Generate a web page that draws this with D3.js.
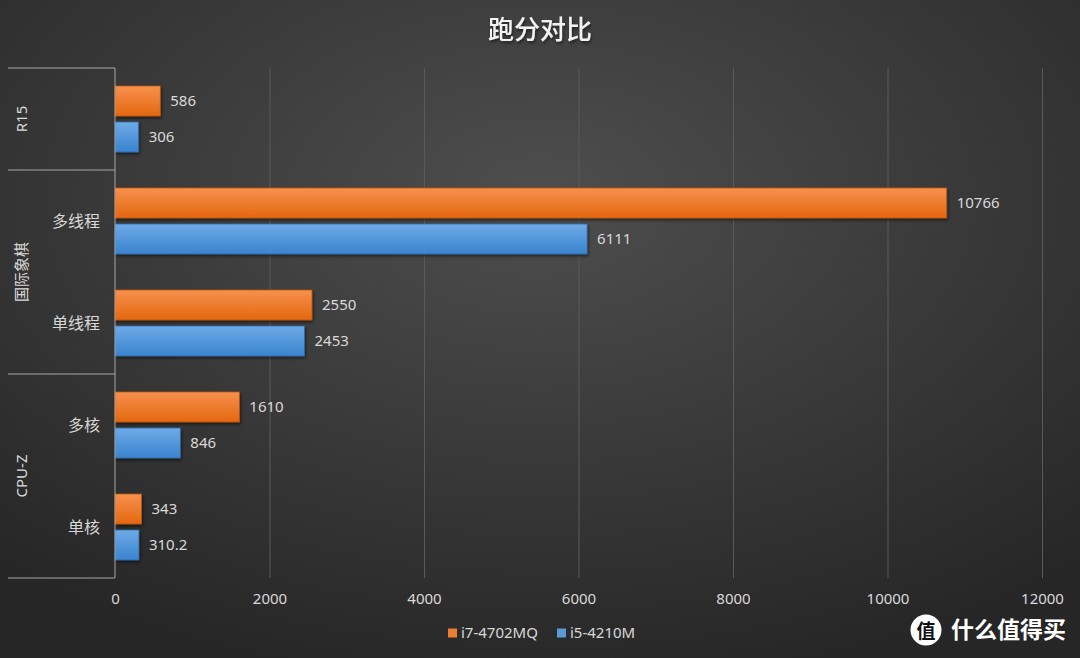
<!DOCTYPE html>
<html>
<head>
<meta charset="utf-8">
<script src="https://cdn.jsdelivr.net/npm/d3@7"></script>
<style>
  html, body { margin: 0; padding: 0; background: #333; }
  #chart { width: 1080px; height: 658px; }
  text { font-family: "Noto Sans", "Noto Sans CJK SC", sans-serif; }
</style>
</head>
<body>
<div id="chart"></div>
<script>
// Chart data
const categoryGroups = ['R15', '国际象棋', '国际象棋', 'CPU-Z', 'CPU-Z'];
const categoryNames = ['', '多线程', '单线程', '多核', '单核'];
const seriesNames = ['i7-4702MQ', 'i5-4210M'];
const i7Values = [586, 10766, 2550, 1610, 343];
const i5Values = [306, 6111, 2453, 846, 310.2];
const xTicks = [0, 2000, 4000, 6000, 8000, 10000, 12000];
const title = '跑分对比';

function initChart() {
  const width = 1080;
  const height = 658;
  const margin = { top: 68, right: 38, bottom: 80, left: 115 };
  const innerWidth = width - margin.left - margin.right;
  const innerHeight = height - margin.top - margin.bottom;
  const labelColor = '#d9d9d9';

  const svg = d3.select('#chart')
    .append('svg')
    .attr('width', width)
    .attr('height', height);

  const defs = svg.append('defs');

  // Background gradient
  const bg = defs.append('radialGradient')
    .attr('id', 'bg')
    .attr('cx', '50%').attr('cy', '30%').attr('r', '75%');
  bg.append('stop').attr('offset', '0%').attr('stop-color', '#4e4e4e');
  bg.append('stop').attr('offset', '100%').attr('stop-color', '#262626');

  const colors = [
    { id: 'gOrange', top: '#f7914f', bottom: '#e4670f', stroke: '#b9560f', legend: '#ed7d31' },
    { id: 'gBlue', top: '#6eaae6', bottom: '#3a84cf', stroke: '#2e6aa8', legend: '#5b9bd5' }
  ];
  colors.forEach(c => {
    const lg = defs.append('linearGradient')
      .attr('id', c.id)
      .attr('x1', 0).attr('y1', 0).attr('x2', 0).attr('y2', 1);
    lg.append('stop').attr('offset', '0%').attr('stop-color', c.top);
    lg.append('stop').attr('offset', '100%').attr('stop-color', c.bottom);
  });

  const shadow = defs.append('filter').attr('id', 'shadow')
    .attr('x', '-10%').attr('y', '-20%').attr('width', '130%').attr('height', '160%');
  shadow.append('feDropShadow')
    .attr('dx', 1).attr('dy', 2).attr('stdDeviation', 1.5)
    .attr('flood-color', '#000').attr('flood-opacity', 0.5);

  svg.append('rect')
    .attr('width', width).attr('height', height)
    .attr('fill', 'url(#bg)');

  // Title
  svg.append('text')
    .attr('x', width / 2)
    .attr('y', 39)
    .attr('text-anchor', 'middle')
    .style('fill', '#f2f2f2')
    .style('font-size', '26px')
    .style('font-weight', '500')
    .style('font-family', '"Noto Sans CJK SC", sans-serif')
    .attr('filter', 'url(#shadow)')
    .text(title);

  const g = svg.append('g')
    .attr('transform', `translate(${margin.left},${margin.top})`);

  // Scales
  const xScale = d3.scaleLinear()
    .domain([0, 12000])
    .range([0, innerWidth]);

  const yScale = d3.scaleBand()
    .domain(d3.range(categoryNames.length))
    .range([0, innerHeight]);

  const ySub = d3.scaleBand()
    .domain(d3.range(seriesNames.length))
    .range([0, yScale.bandwidth()])
    .paddingInner(1 / 6)
    .paddingOuter(0.5);

  // Grid
  const xGrid = g.append('g')
    .call(d3.axisBottom(xScale)
      .tickValues(xTicks.slice(1))
      .tickSize(innerHeight)
      .tickFormat(''));
  xGrid.select('.domain').remove();
  xGrid.selectAll('line')
    .style('stroke', '#5a5a5a')
    .style('stroke-width', 1);

  // X axis labels
  const xAxis = g.append('g')
    .attr('transform', `translate(0,${innerHeight})`)
    .call(d3.axisBottom(xScale)
      .tickValues(xTicks)
      .tickFormat(d3.format('d'))
      .tickSize(0)
      .tickPadding(15));
  xAxis.select('.domain').remove();
  xAxis.selectAll('text')
    .style('fill', labelColor)
    .style('font-size', '15px');

  // Bars
  const seriesValues = [i7Values, i5Values];
  seriesValues.forEach((values, s) => {
    const bars = g.append('g');
    bars.selectAll('rect')
      .data(values)
      .enter().append('rect')
      .attr('x', 0)
      .attr('y', (d, i) => yScale(i) + ySub(s))
      .attr('width', d => xScale(d))
      .attr('height', ySub.bandwidth())
      .attr('fill', `url(#${colors[s].id})`)
      .attr('stroke', colors[s].stroke)
      .attr('stroke-width', 0.8)
      .attr('filter', 'url(#shadow)');

    bars.selectAll('text')
      .data(values)
      .enter().append('text')
      .attr('x', d => xScale(d) + 10)
      .attr('y', (d, i) => yScale(i) + ySub(s) + ySub.bandwidth() / 2)
      .attr('dy', '0.35em')
      .style('fill', labelColor)
      .style('font-size', '15px')
      .text(d => d);
  });

  // Category axis
  g.append('line')
    .attr('x1', 0).attr('x2', 0)
    .attr('y1', 0).attr('y2', innerHeight)
    .style('stroke', '#a6a6a6')
    .style('stroke-width', 1);

  g.selectAll('.cat-label')
    .data(categoryNames)
    .enter().append('text')
    .attr('class', 'cat-label')
    .attr('x', -15)
    .attr('y', (d, i) => yScale(i) + yScale.bandwidth() / 2)
    .attr('dy', '0.35em')
    .attr('text-anchor', 'end')
    .style('fill', labelColor)
    .style('font-size', '16px')
    .style('font-family', '"Noto Sans CJK SC", sans-serif')
    .text(d => d);

  // Group spans
  const groupSpans = [];
  categoryGroups.forEach((name, i) => {
    const last = groupSpans[groupSpans.length - 1];
    if (last && last.name === name) last.end = i;
    else groupSpans.push({ name, start: i, end: i });
  });

  const sepYs = [0].concat(groupSpans.map(s => yScale(s.end) + yScale.bandwidth()));
  g.selectAll('.sep')
    .data(sepYs)
    .enter().append('line')
    .attr('class', 'sep')
    .attr('x1', -107).attr('x2', 0)
    .attr('y1', d => d).attr('y2', d => d)
    .style('stroke', '#a6a6a6')
    .style('stroke-width', 1);

  g.selectAll('.group-label')
    .data(groupSpans)
    .enter().append('text')
    .attr('class', 'group-label')
    .attr('transform', d => {
      const cy = (yScale(d.start) + yScale(d.end) + yScale.bandwidth()) / 2;
      return `translate(-93,${cy}) rotate(-90)`;
    })
    .attr('dy', '0.35em')
    .attr('text-anchor', 'middle')
    .style('fill', labelColor)
    .style('font-size', '15px')
    .style('font-family', '"Noto Sans", "Noto Sans CJK SC", sans-serif')
    .text(d => d.name);

  // Legend
  const legend = svg.append('g')
    .attr('transform', `translate(448, 633)`);
  const legendX = [0, 109];
  seriesNames.forEach((name, i) => {
    const item = legend.append('g')
      .attr('transform', `translate(${legendX[i]},0)`);
    item.append('rect')
      .attr('x', 0).attr('y', -4.5)
      .attr('width', 9).attr('height', 9)
      .attr('fill', colors[i].legend);
    item.append('text')
      .attr('x', 13)
      .attr('y', 0)
      .attr('dy', '0.35em')
      .style('fill', labelColor)
      .style('font-size', '15px')
      .text(name);
  });

  // Watermark
  const mark = svg.append('g').attr('transform', 'translate(926, 630)');
  mark.append('circle')
    .attr('r', 15.5)
    .attr('fill', '#fff');
  mark.append('text')
    .attr('y', 1)
    .attr('dy', '0.35em')
    .attr('text-anchor', 'middle')
    .style('fill', '#111')
    .style('font-size', '19px')
    .style('font-weight', 'bold')
    .style('font-family', '"Noto Sans CJK SC", sans-serif')
    .text('值');
  mark.append('text')
    .attr('x', 25)
    .attr('y', 0)
    .attr('dy', '0.35em')
    .style('fill', '#fff')
    .style('font-size', '23px')
    .style('font-weight', 'bold')
    .style('font-family', '"Noto Sans CJK SC", sans-serif')
    .text('什么值得买');
}

if (document.readyState === 'loading') {
  document.addEventListener('DOMContentLoaded', initChart);
} else {
  initChart();
}
</script>
</body>
</html>
